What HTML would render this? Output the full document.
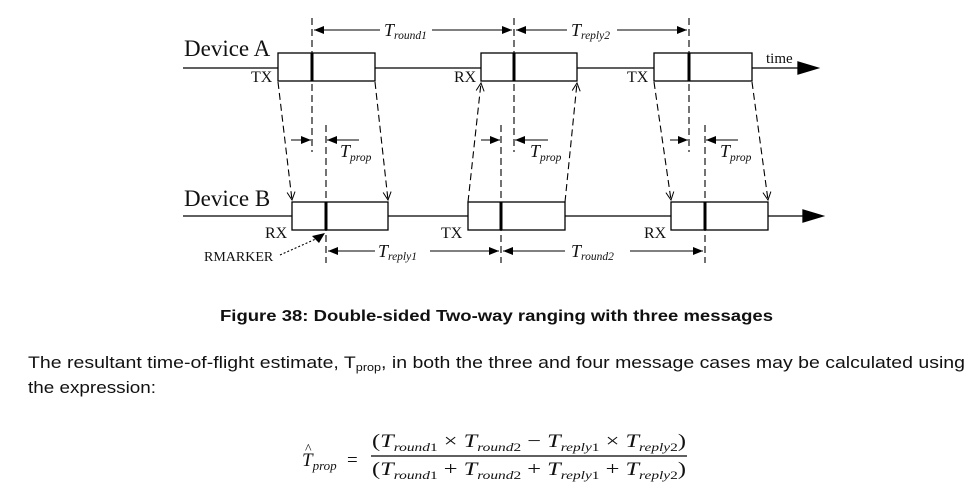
<!DOCTYPE html>
<html><head><meta charset="utf-8"><style>
html,body{margin:0;padding:0;background:#fff;}
svg{display:block;}
.s{font-family:"Liberation Serif",serif;fill:#111;}
.c{font-family:"Liberation Sans",sans-serif;fill:#111;}
</style></head><body>
<svg width="970" height="485" viewBox="0 0 970 485" xmlns="http://www.w3.org/2000/svg">
<defs>
<marker id="ah" markerWidth="10" markerHeight="8" refX="10" refY="4" orient="auto" markerUnits="userSpaceOnUse"><path d="M0,0 L10,4 L0,8 Z" fill="#000"/></marker>
<marker id="oa" markerWidth="10" markerHeight="10" refX="9" refY="5" orient="auto" markerUnits="userSpaceOnUse"><path d="M1,1 L9,5 L1,9" fill="none" stroke="#000" stroke-width="1"/></marker>
</defs>
<g stroke="#000" stroke-width="1.3" fill="none">
<line x1="183" y1="68" x2="800" y2="68"/>
<path d="M798,62 L818,68 L798,74 Z" fill="#000"/>
<line x1="183" y1="216" x2="805" y2="216"/>
<path d="M803,210 L823,216 L803,222 Z" fill="#000"/>
<rect x="278" y="53" width="97" height="28" fill="#fff"/>
<rect x="481" y="53" width="96" height="28" fill="#fff"/>
<rect x="654" y="53" width="98" height="28" fill="#fff"/>
<rect x="292" y="202" width="96" height="28" fill="#fff"/>
<rect x="468" y="202" width="97" height="28" fill="#fff"/>
<rect x="671" y="202" width="97" height="28" fill="#fff"/>
</g>
<g stroke="#000" stroke-width="3">
<line x1="312" y1="53" x2="312" y2="81"/><line x1="514" y1="53" x2="514" y2="81"/><line x1="689" y1="53" x2="689" y2="81"/>
<line x1="326" y1="202" x2="326" y2="230"/><line x1="501" y1="202" x2="501" y2="230"/><line x1="705" y1="202" x2="705" y2="230"/>
</g>
<g stroke="#000" stroke-width="1.1" stroke-dasharray="7,4" fill="none">
<line x1="312" y1="18" x2="312" y2="152"/><line x1="514" y1="18" x2="514" y2="152"/><line x1="689" y1="18" x2="689" y2="152"/>
<line x1="326" y1="125" x2="326" y2="263"/><line x1="501" y1="125" x2="501" y2="263"/><line x1="705" y1="125" x2="705" y2="263"/>
<line x1="278" y1="82" x2="292" y2="200" marker-end="url(#oa)"/>
<line x1="375" y1="82" x2="388" y2="200" marker-end="url(#oa)"/>
<line x1="468" y1="202" x2="481" y2="83" marker-end="url(#oa)"/>
<line x1="565" y1="202" x2="577" y2="83" marker-end="url(#oa)"/>
<line x1="654" y1="82" x2="671" y2="200" marker-end="url(#oa)"/>
<line x1="752" y1="82" x2="768" y2="200" marker-end="url(#oa)"/>
</g>
<g stroke="#000" stroke-width="1.1">
<line x1="380" y1="30" x2="314" y2="30" marker-end="url(#ah)"/>
<line x1="432" y1="30" x2="512" y2="30" marker-end="url(#ah)"/>
<line x1="567" y1="30" x2="516" y2="30" marker-end="url(#ah)"/>
<line x1="617" y1="30" x2="687" y2="30" marker-end="url(#ah)"/>
<line x1="375" y1="251" x2="328" y2="251" marker-end="url(#ah)"/>
<line x1="430" y1="251" x2="499" y2="251" marker-end="url(#ah)"/>
<line x1="565" y1="251" x2="503" y2="251" marker-end="url(#ah)"/>
<line x1="630" y1="251" x2="703" y2="251" marker-end="url(#ah)"/>
<line x1="291" y1="140" x2="311" y2="140" marker-end="url(#ah)"/>
<line x1="359" y1="140" x2="327" y2="140" marker-end="url(#ah)"/>
<line x1="481" y1="140" x2="500" y2="140" marker-end="url(#ah)"/>
<line x1="548" y1="140" x2="515" y2="140" marker-end="url(#ah)"/>
<line x1="670" y1="140" x2="688" y2="140" marker-end="url(#ah)"/>
<line x1="738" y1="140" x2="706" y2="140" marker-end="url(#ah)"/>
<line x1="280" y1="255" x2="318" y2="238" stroke-dasharray="2,2"/>
</g>
<path d="M325,233 L312,236 L319,243 Z" fill="#000"/>
<g class="s">
<text x="184" y="56" font-size="23">Device A</text>
<text x="184" y="206" font-size="23">Device B</text>
<text x="251" y="82" font-size="16">TX</text>
<text x="454" y="82" font-size="16">RX</text>
<text x="627" y="82" font-size="16">TX</text>
<text x="265" y="238" font-size="16">RX</text>
<text x="441" y="238" font-size="16">TX</text>
<text x="644" y="238" font-size="16">RX</text>
<text x="204" y="261" font-size="14">RMARKER</text>
<text x="766" y="63" font-size="15">time</text>
<g font-style="italic">
<text x="384" y="36" font-size="18">T<tspan font-size="11.5" dy="3">round1</tspan></text>
<text x="571" y="36" font-size="18">T<tspan font-size="11.5" dy="3">reply2</tspan></text>
<text x="378" y="257" font-size="18">T<tspan font-size="11.5" dy="3">reply1</tspan></text>
<text x="571" y="257" font-size="18">T<tspan font-size="11.5" dy="3">round2</tspan></text>
<text x="340" y="157" font-size="18">T<tspan font-size="11.5" dy="4">prop</tspan></text>
<text x="530" y="157" font-size="18">T<tspan font-size="11.5" dy="4">prop</tspan></text>
<text x="720" y="157" font-size="18">T<tspan font-size="11.5" dy="4">prop</tspan></text>
</g>
</g>
<g class="c">
<text x="220" y="321" font-size="16" font-weight="bold" textLength="553" lengthAdjust="spacingAndGlyphs">Figure 38: Double-sided Two-way ranging with three messages</text>
<text x="28" y="368" font-size="17" textLength="937" lengthAdjust="spacingAndGlyphs">The resultant time-of-flight estimate, T<tspan font-size="11" dy="3">prop</tspan><tspan dy="-3">, in both the three and four message cases may be calculated using</tspan></text>
<text x="28" y="393" font-size="17" textLength="128" lengthAdjust="spacingAndGlyphs">the expression:</text>
</g>
<g class="s" font-size="19">
<text x="302" y="466" font-style="italic">T<tspan font-size="13" dy="4">prop</tspan></text>
<text x="305" y="453" font-size="14">^</text>
<text x="347" y="466">=</text>
<line x1="371" y1="456" x2="687" y2="456" stroke="#000" stroke-width="1.2"/>
<text x="372" y="447" textLength="314" lengthAdjust="spacingAndGlyphs">(<tspan font-style="italic">T</tspan><tspan font-size="12" font-style="italic" dy="4">round</tspan><tspan font-size="12" dy="0">1</tspan><tspan dy="-4"> × </tspan><tspan font-style="italic">T</tspan><tspan font-size="12" font-style="italic" dy="4">round</tspan><tspan font-size="12">2</tspan><tspan dy="-4"> − </tspan><tspan font-style="italic">T</tspan><tspan font-size="12" font-style="italic" dy="4">reply</tspan><tspan font-size="12">1</tspan><tspan dy="-4"> × </tspan><tspan font-style="italic">T</tspan><tspan font-size="12" font-style="italic" dy="4">reply</tspan><tspan font-size="12">2</tspan><tspan dy="-4">)</tspan></text>
<text x="372" y="475" textLength="314" lengthAdjust="spacingAndGlyphs">(<tspan font-style="italic">T</tspan><tspan font-size="12" font-style="italic" dy="4">round</tspan><tspan font-size="12">1</tspan><tspan dy="-4"> + </tspan><tspan font-style="italic">T</tspan><tspan font-size="12" font-style="italic" dy="4">round</tspan><tspan font-size="12">2</tspan><tspan dy="-4"> + </tspan><tspan font-style="italic">T</tspan><tspan font-size="12" font-style="italic" dy="4">reply</tspan><tspan font-size="12">1</tspan><tspan dy="-4"> + </tspan><tspan font-style="italic">T</tspan><tspan font-size="12" font-style="italic" dy="4">reply</tspan><tspan font-size="12">2</tspan><tspan dy="-4">)</tspan></text>
</g>
</svg>
</body></html>
